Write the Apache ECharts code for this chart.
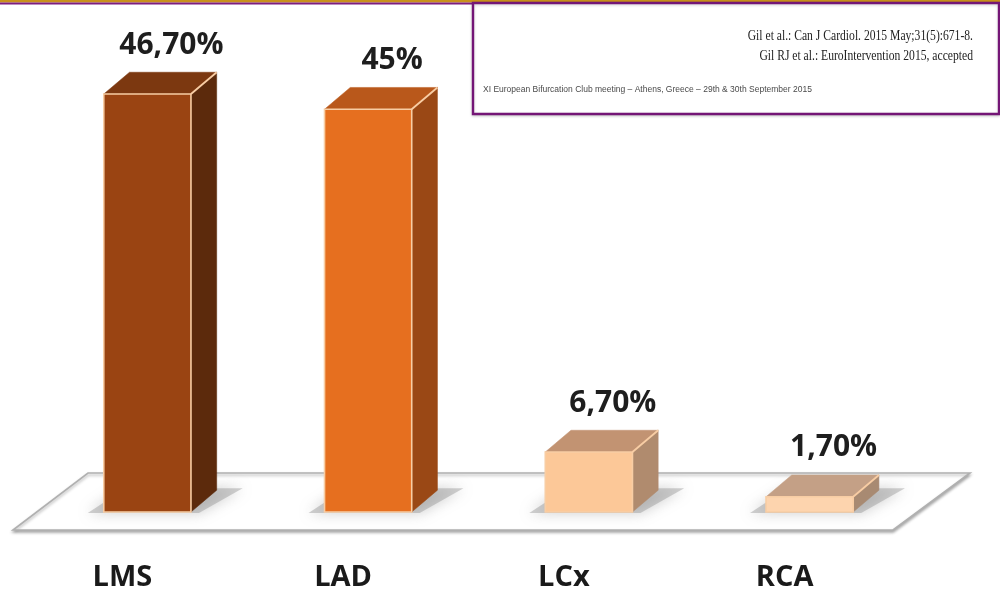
<!DOCTYPE html>
<html>
<head>
<meta charset="utf-8">
<title>Bifurcation lesion location</title>
<script src="https://cdn.jsdelivr.net/npm/echarts@6/dist/echarts.min.js"></script>
<style>
  html, body { margin: 0; padding: 0; background: #ffffff; }
  #chart { width: 1000px; height: 613px; }
</style>
</head>
<body>
<div id="chart"></div>
<script>
// Vessel categories and share of lesions (%)
const categories = ['LMS', 'LAD', 'LCx', 'RCA'];
const values = [46.7, 45, 6.7, 1.7];

// Reference lines shown in the citation box
const citationLines = [
  'Gil et al.: Can J Cardiol. 2015 May;31(5):671-8.',
  'Gil RJ et al.: EuroIntervention 2015, accepted'
];
const meetingLine = 'XI European Bifurcation Club meeting \u2013 Athens, Greece \u2013 29th & 30th September 2015';

// Face colours of each box: front, top, side
const palette = [
  { front: '#9a4412', top: '#7c3810', side: '#5c2a0c' },
  { front: '#e66f1f', top: '#b9581b', side: '#9a4815' },
  { front: '#fcc898', top: '#c29372', side: '#b08b6e' },
  { front: '#fdd4ae', top: '#c4a086', side: '#a88a72' }
];

// "46,70%" style: comma decimal, two places unless whole
function formatPct(v) {
  return Number.isInteger(v) ? v + '%' : v.toFixed(2).replace('.', ',') + '%';
}

const chart = echarts.init(document.getElementById('chart'), null, { renderer: 'canvas' });

// Skewed floor plate under the boxes, derived from the grid rectangle
function renderFloor(params, api) {
  const cs = params.coordSys;
  const base = api.coord([0, 0])[1];
  const left = cs.x, right = cs.x + cs.width;
  const yTop = base - 39, yBot = base + 18;
  return {
    type: 'polygon',
    shape: {
      points: [
        [left + 51, yTop], [right + 50, yTop],
        [right - 27, yBot], [left - 24, yBot]
      ]
    },
    style: {
      fill: '#ffffff',
      stroke: '#b0b0b0',
      lineWidth: 1.6,
      shadowColor: 'rgba(0,0,0,0.3)',
      shadowBlur: 3,
      shadowOffsetY: 2
    },
    silent: true
  };
}

// Pseudo-3D box for each category
function renderBox(params, api) {
  const i = params.dataIndex;
  const v = api.value(1);
  const topPt = api.coord([api.value(0), v]);
  const basePt = api.coord([api.value(0), 0]);
  const band = api.size([1, 0])[0];
  const w = band * 0.395;
  const dx = w * 0.295, dy = w * 0.25;
  const fl = topPt[0] - w / 2, fr = topPt[0] + w / 2;
  const yt = topPt[1], yb = basePt[1];
  const c = palette[i];
  const edge = '#f8cda4';

  const children = [
    // soft base shadow
    {
      type: 'polygon',
      shape: { points: [[fl - 16, yb + 1], [fr + 8, yb + 1], [fr + dx + 26, yb - dy - 2], [fl + dx - 4, yb - dy - 2]] },
      style: { fill: 'rgba(140,140,140,0.4)', shadowColor: 'rgba(120,120,120,0.9)', shadowBlur: 14 },
      silent: true
    },
    // side face
    {
      type: 'polygon',
      shape: { points: [[fr, yt], [fr + dx, yt - dy], [fr + dx, yb - dy], [fr, yb]] },
      style: { fill: c.side, stroke: c.side, lineWidth: 0.5 }
    },
    // top face
    {
      type: 'polygon',
      shape: { points: [[fl, yt], [fl + dx, yt - dy], [fr + dx, yt - dy], [fr, yt]] },
      style: { fill: c.top, stroke: c.top, lineWidth: 0.5 }
    },
    // front face
    {
      type: 'rect',
      shape: { x: fl, y: yt, width: w, height: yb - yt },
      style: { fill: c.front, stroke: edge, lineWidth: 1.6 }
    },
    // highlighted top-right edge
    {
      type: 'line',
      shape: { x1: fr, y1: yt, x2: fr + dx, y2: yt - dy },
      style: { stroke: edge, lineWidth: 1.8 }
    },
    // value label
    {
      type: 'text',
      x: topPt[0] + 24,
      y: yt - 49,
      style: {
        text: formatPct(v),
        fill: '#1e1e1e',
        font: 'bold 30px "Open Sans", "DejaVu Sans", sans-serif',
        align: 'center',
        verticalAlign: 'middle'
      }
    }
  ];
  return { type: 'group', children };
}

const option = {
  backgroundColor: '#ffffff',
  animation: false,
  grid: { left: 37, right: 80, top: 64.5, bottom: 101 },
  xAxis: {
    type: 'category',
    data: categories,
    axisLine: { show: false },
    axisTick: { show: false },
    splitLine: { show: false },
    axisLabel: {
      margin: 51,
      color: '#1a1a1a',
      fontFamily: '"Open Sans", "DejaVu Sans", sans-serif',
      fontWeight: 'bold',
      fontSize: 29,
      lineHeight: 30,
      padding: [0, 50, 0, 0]
    }
  },
  yAxis: {
    type: 'value',
    min: 0,
    max: 50,
    show: false,
    splitLine: { show: false }
  },
  series: [
    {
      type: 'custom',
      name: 'floor',
      renderItem: renderFloor,
      data: [[0, 0]],
      encode: { x: 0, y: 1 },
      z: 1,
      silent: true
    },
    {
      type: 'custom',
      name: 'share',
      renderItem: renderBox,
      data: categories.map((c, i) => [i, values[i]]),
      encode: { x: 0, y: 1 },
      z: 2
    }
  ],
  graphic: [
    // top rule: gold over purple
    { type: 'rect', left: 0, top: 0, shape: { width: 1000, height: 2.5 }, style: { fill: '#c9911c' }, silent: true },
    { type: 'rect', left: 0, top: 2.5, shape: { width: 1000, height: 2 }, style: { fill: '#7d1d7f' }, silent: true },
    // citation box
    {
      type: 'rect',
      x: 473, y: 3,
      shape: { width: 526, height: 111 },
      style: {
        fill: '#ffffff', stroke: '#741676', lineWidth: 2.4,
        shadowColor: 'rgba(0,0,0,0.18)', shadowBlur: 3, shadowOffsetY: 1
      },
      z: 10, silent: true
    },
    {
      type: 'text', x: 973, y: 36, scaleX: 0.83, z: 11, silent: true,
      style: { text: citationLines[0], fill: '#222222', font: '14px "Liberation Serif", serif', align: 'right', verticalAlign: 'middle' }
    },
    {
      type: 'text', x: 973, y: 56, scaleX: 0.83, z: 11, silent: true,
      style: { text: citationLines[1], fill: '#222222', font: '14px "Liberation Serif", serif', align: 'right', verticalAlign: 'middle' }
    },
    {
      type: 'text', x: 483, y: 90, z: 11, silent: true,
      style: { text: meetingLine, fill: '#4a4a4a', font: '8.5px "Liberation Sans", sans-serif', align: 'left', verticalAlign: 'middle' }
    }
  ]
};

chart.setOption(option);
</script>
</body>
</html>
